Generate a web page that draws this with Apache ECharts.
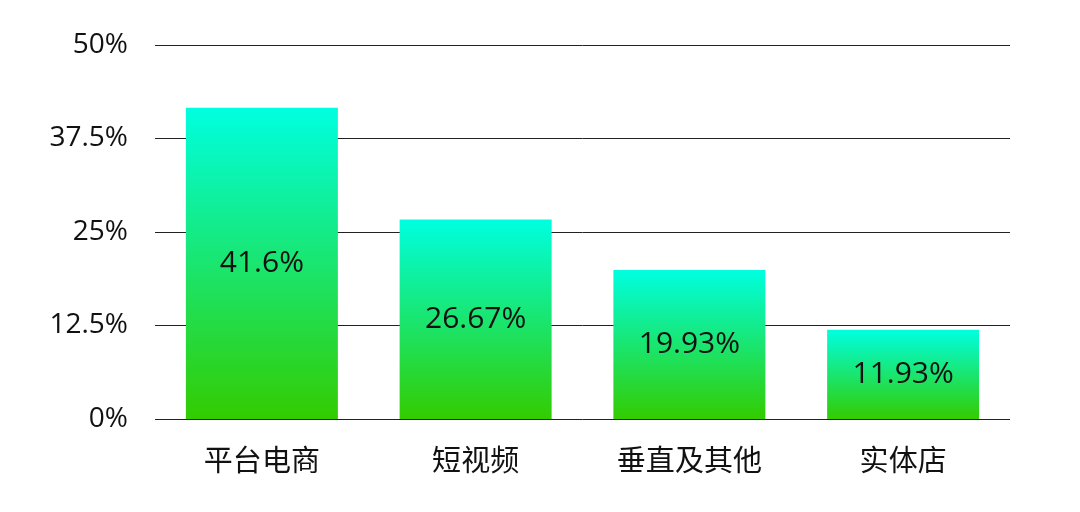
<!DOCTYPE html>
<html><head><meta charset="utf-8">
<script src="https://cdn.jsdelivr.net/npm/echarts@6/dist/echarts.min.js"></script>
<style>html,body{margin:0;padding:0;background:#fff}#c{width:1080px;height:512px}</style>
</head><body><div id="c"></div>
<script>
const categories = ['平台电商', '短视频', '垂直及其他', '实体店'];
const values = [41.6, 26.67, 19.93, 11.93];
const yTicks = ['0%', '12.5%', '25%', '37.5%', '50%'];
const font = '"Open Sans", "Noto Sans CJK SC", sans-serif';
const cjk = '"Noto Sans CJK SC", sans-serif';
const chart = echarts.init(document.getElementById('c'));
chart.setOption({
  animation: false,
  grid: {left: 155, right: 70, top: 45, bottom: 93},
  xAxis: {
    type: 'category', data: categories,
    axisLine: {show: false}, axisTick: {show: false},
    axisLabel: {color: '#111', fontSize: 29, margin: 26, fontFamily: cjk}
  },
  yAxis: {
    type: 'value', min: 0, max: 50, interval: 12.5,
    axisLine: {show: false}, axisTick: {show: false},
    splitLine: {lineStyle: {color: '#222', width: 1}},
    axisLabel: {color: '#111', fontSize: 28, margin: 27, fontFamily: font,
      padding: [4, 0, 0, 0],
      formatter: v => yTicks[Math.round(v / 12.5)]}
  },
  series: [{
    type: 'bar', data: values, barWidth: 152,
    itemStyle: {color: new echarts.graphic.LinearGradient(0, 0, 0, 1, [
      {offset: 0, color: '#00FFE0'}, {offset: 1, color: '#33CC00'}])},
    label: {show: true, position: 'inside', color: '#111', fontSize: 30, fontFamily: font,
      padding: [2, 0, 0, 0],
      formatter: p => p.value + '%'}
  }]
});
</script></body></html>
